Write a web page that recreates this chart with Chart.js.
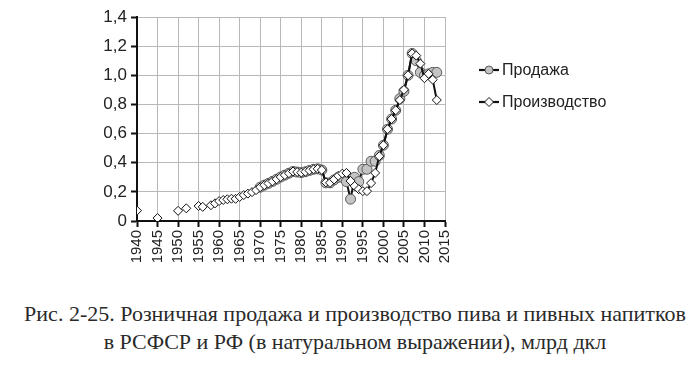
<!DOCTYPE html>
<html><head><meta charset="utf-8">
<script src="https://cdn.jsdelivr.net/npm/chart.js@4/dist/chart.umd.min.js"></script>
<style>
html,body{margin:0;padding:0;background:#fff;width:700px;height:378px;overflow:hidden}
#wrap{position:absolute;left:0;top:0;width:700px;height:290px}
.cap{position:absolute;left:0;width:710px;text-align:center;font-family:"Liberation Serif","DejaVu Serif",serif;font-size:22px;color:#2a2a2a;white-space:nowrap}
</style></head><body>
<div id="wrap"><canvas id="c"></canvas></div>
<div class="cap" style="top:301px">Рис. 2-25. Розничная продажа и производство пива и пивных напитков</div>
<div class="cap" style="top:329px">в РСФСР и РФ (в натуральном выражении), млрд дкл</div>
<script>
const years = [1940,1941,1942,1943,1944,1945,1946,1947,1948,1949,
1950,1951,1952,1953,1954,1955,1956,1957,1958,1959,
1960,1961,1962,1963,1964,1965,1966,1967,1968,1969,
1970,1971,1972,1973,1974,1975,1976,1977,1978,1979,
1980,1981,1982,1983,1984,1985,1986,1987,1988,1989,
1990,1991,1992,1993,1994,1995,1996,1997,1998,1999,
2000,2001,2002,2003,2004,2005,2006,2007,2008,2009,
2010,2011,2012,2013];

const production = [0.071,null,null,null,null,0.02,null,null,null,null,
0.07,null,0.087,null,null,0.103,0.097,null,0.108,0.121,
0.137,0.144,0.149,0.153,0.152,0.165,0.178,0.188,0.198,0.212,
0.232,0.246,0.258,0.272,0.287,0.302,0.315,0.328,0.34,0.336,
0.332,0.338,0.347,0.355,0.358,0.35,0.265,0.262,0.285,0.31,
0.325,0.33,0.275,0.24,0.218,0.205,0.205,0.26,0.33,0.445,
0.52,0.63,0.70,0.76,0.83,0.90,1.0,1.15,1.135,1.08,
0.98,1.01,0.97,0.83];

const sales = [null,null,null,null,null,null,null,null,null,null,
null,null,null,null,null,null,null,null,null,null,
null,null,null,null,null,null,null,null,null,null,
0.232,0.246,0.258,0.272,0.287,0.302,0.315,0.328,0.34,0.336,
0.332,0.338,0.347,0.355,0.358,0.35,0.262,0.262,0.282,0.30,
0.30,0.27,0.15,0.30,0.27,0.355,0.355,0.41,0.41,0.45,
0.52,0.63,0.70,0.76,0.84,0.89,1.0,1.15,1.10,1.02,
1.00,1.01,1.02,1.02];

const yTicks = [0,0.2,0.4,0.6,0.8,1.0,1.2,1.4];
const seriesNames = ['Продажа','Производство'];

const toXY = arr => years.map((y,i)=>({x:y,y:arr[i]}));

const legendPlugin = {
  id:'customLegend',
  afterDraw(chart){
    const ctx = chart.ctx;
    const items = [
      {y:70, ds:chart.data.datasets[0]},
      {y:102, ds:chart.data.datasets[1]}
    ];
    ctx.save();
    items.forEach(it=>{
      ctx.strokeStyle='#111'; ctx.lineWidth=2.2;
      ctx.beginPath(); ctx.moveTo(479,it.y); ctx.lineTo(499,it.y); ctx.stroke();
      ctx.lineWidth=1;
      ctx.fillStyle=it.ds.pointBackgroundColor; ctx.strokeStyle=it.ds.pointBorderColor;
      ctx.beginPath();
      if(it.ds.pointStyle==='circle'){ ctx.arc(489,it.y,4,0,Math.PI*2); }
      else { ctx.moveTo(489,it.y-4.5); ctx.lineTo(493.5,it.y); ctx.lineTo(489,it.y+4.5); ctx.lineTo(484.5,it.y); ctx.closePath(); }
      ctx.fill(); ctx.stroke();
      ctx.fillStyle='#222'; ctx.font='16px "Liberation Sans", Arial, sans-serif';
      ctx.textBaseline='middle'; ctx.textAlign='left';
      ctx.fillText(it.ds.label,502,it.y+1);
    });
    ctx.restore();
  }
};

new Chart(document.getElementById('c'),{
  type:'line',
  data:{datasets:[
    {label:seriesNames[0],data:toXY(sales),borderColor:'#111',borderWidth:2,
     pointStyle:'circle',pointRadius:5,pointBackgroundColor:'#c4c4c4',pointBorderColor:'#5a5a5a',pointBorderWidth:1,
     spanGaps:false,tension:0,order:2},
    {label:seriesNames[1],data:toXY(production),borderColor:'#111',borderWidth:2,
     pointStyle:'rectRot',pointRadius:4.5,pointBackgroundColor:'#fff',pointBorderColor:'#111',pointBorderWidth:1,
     spanGaps:false,tension:0,order:1}
  ]},
  options:{
    responsive:true,maintainAspectRatio:false,animation:false,
    layout:{padding:{left:0,right:255,top:17,bottom:0}},
    plugins:{legend:{display:false},tooltip:{enabled:false}},
    scales:{
      x:{type:'linear',min:1940,max:2015,
        afterBuildTicks(s){s.ticks=[];for(let v=1940;v<=2015;v+=5)s.ticks.push({value:v});},
        afterFit(s){s.height=69;},
        ticks:{minRotation:90,maxRotation:90,autoSkip:false,padding:3,color:'#222',
          font:{family:'"Liberation Sans", Arial, sans-serif',size:15},callback:v=>String(v)},
        grid:{color:'#b8b8b8',lineWidth:1,tickLength:6,tickColor:'#111',tickWidth:2},
        border:{color:'#111',width:2}},
      y:{min:0,max:1.4,
        afterBuildTicks(s){s.ticks=yTicks.map(v=>({value:v}));},
        afterFit(s){s.width=137;},
        ticks:{padding:4,color:'#222',font:{family:'"Liberation Sans", Arial, sans-serif',size:17},
          callback:v=>v===0?'0':v.toFixed(1).replace('.',',')},
        grid:{color:'#b8b8b8',lineWidth:1,tickLength:6,tickColor:'#111',tickWidth:2},
        border:{color:'#111',width:2}}
    }
  },
  plugins:[legendPlugin]
});
</script>
</body></html>
